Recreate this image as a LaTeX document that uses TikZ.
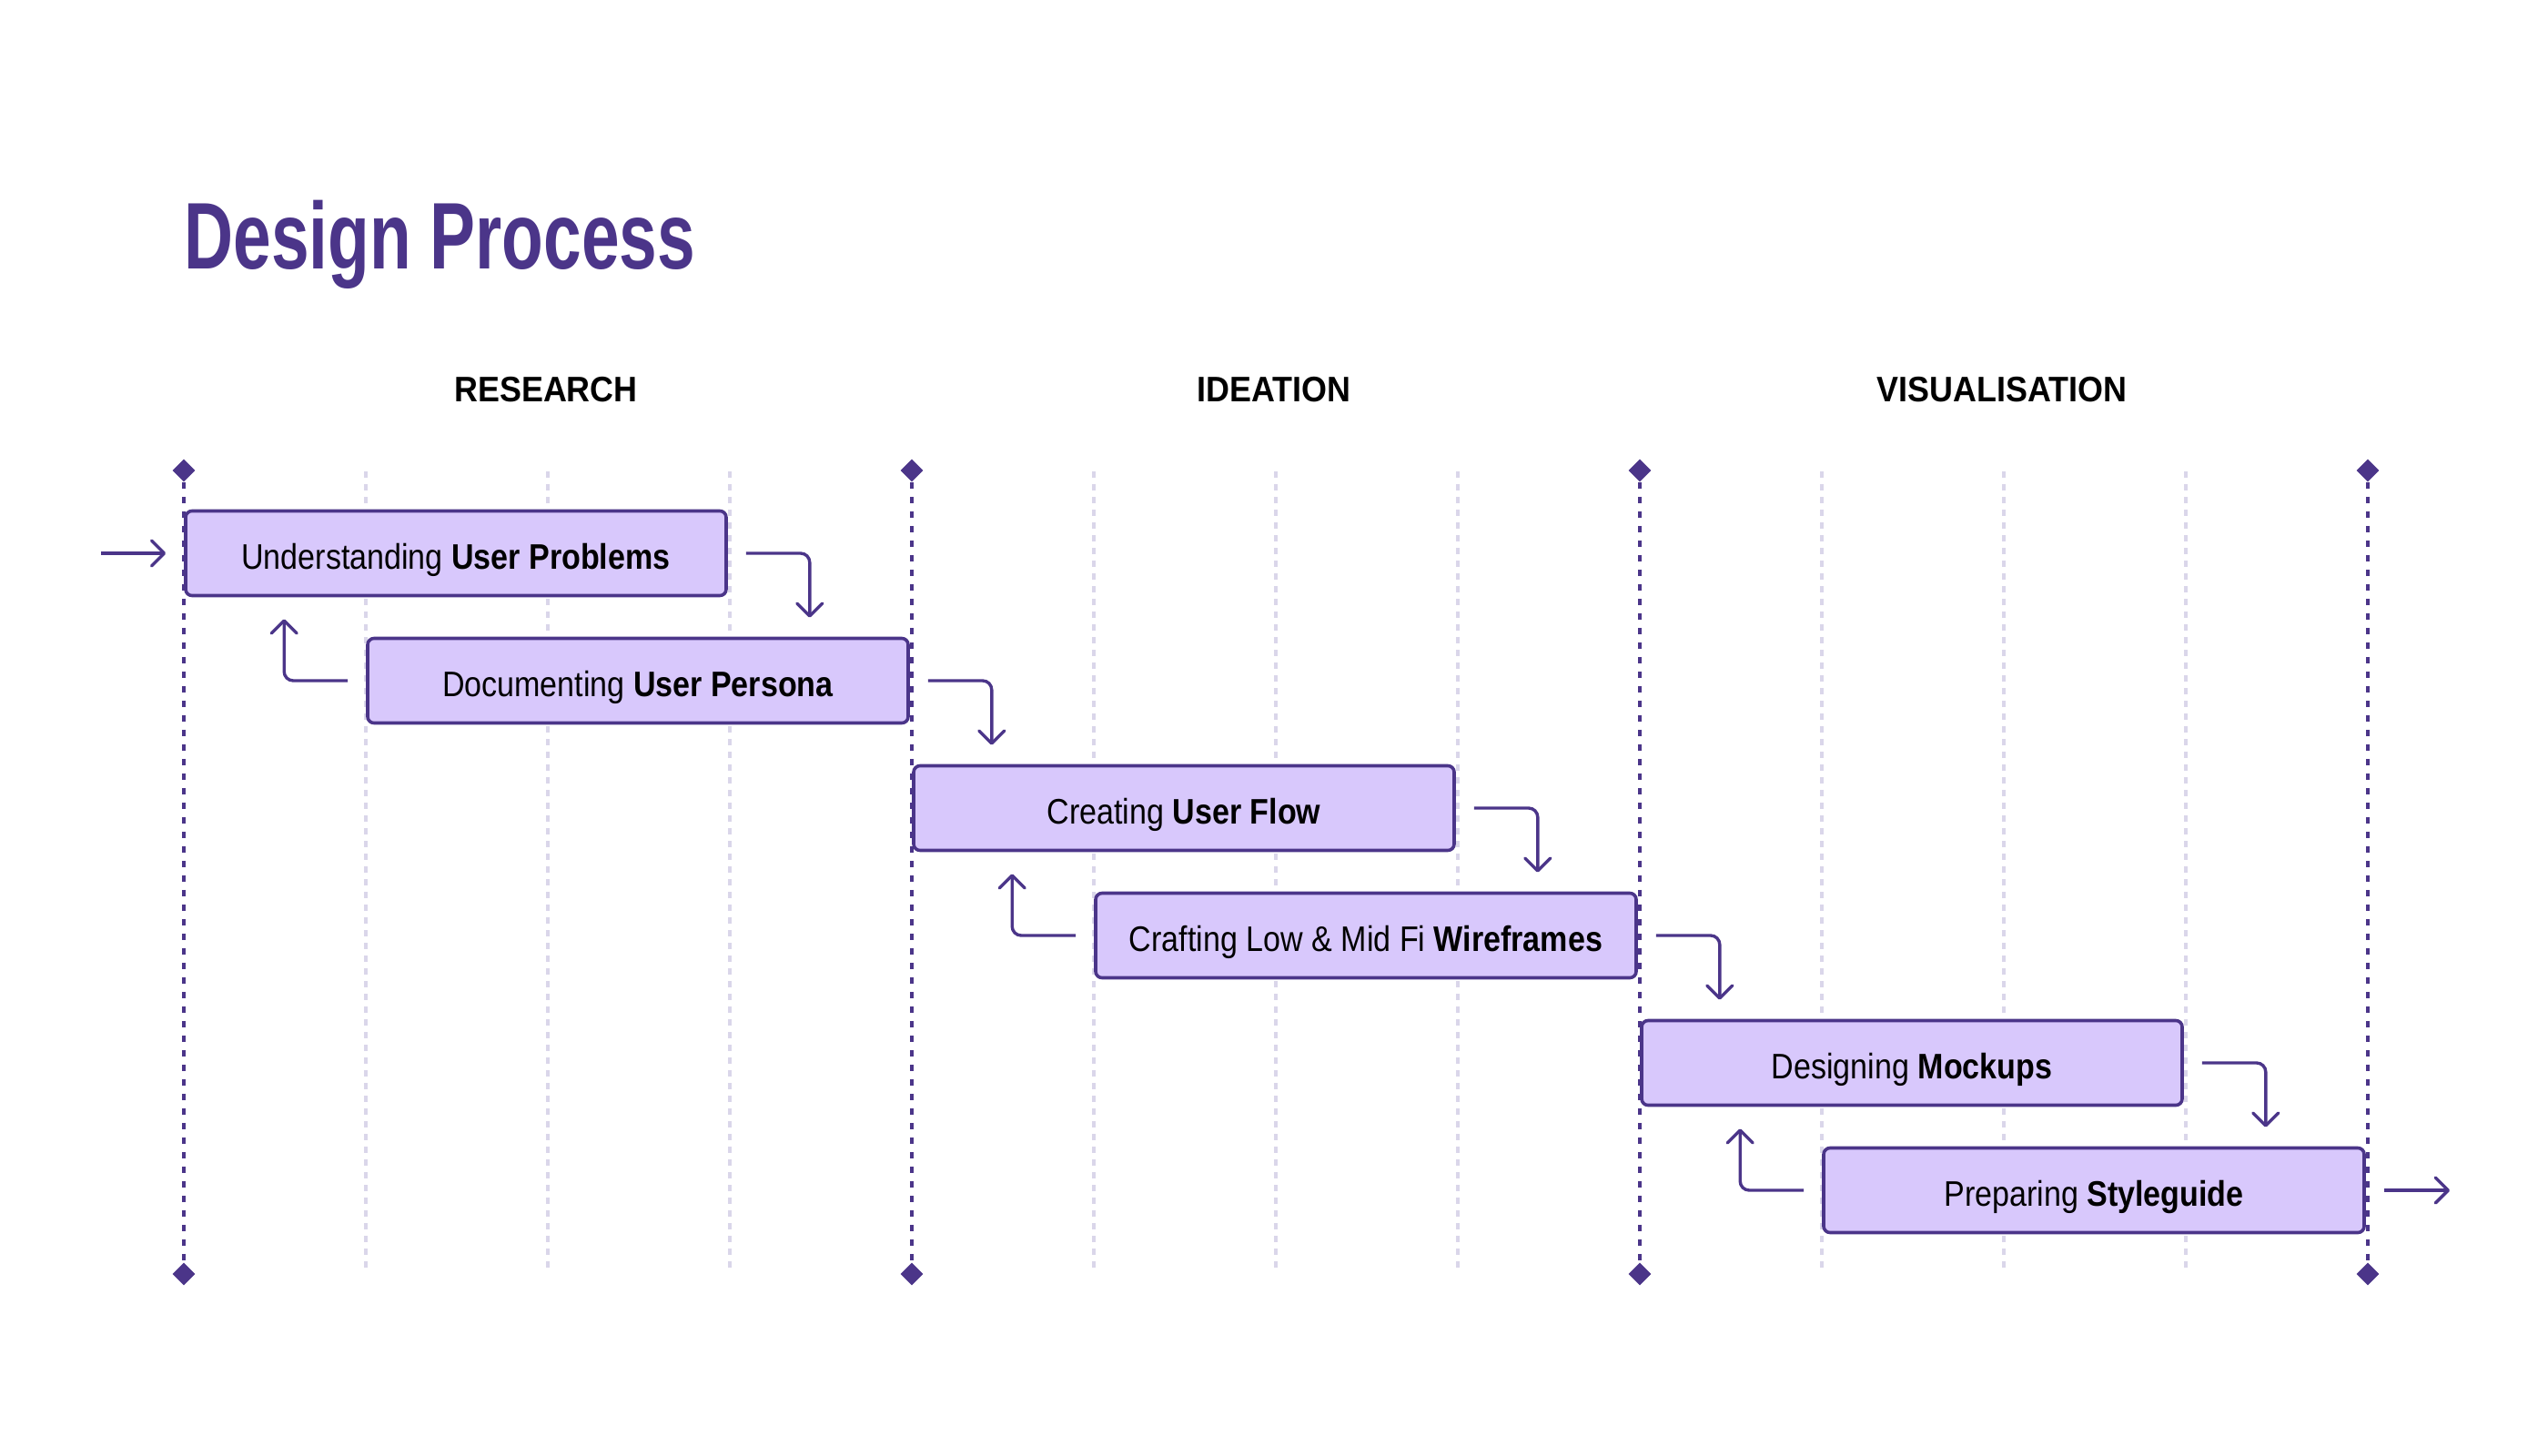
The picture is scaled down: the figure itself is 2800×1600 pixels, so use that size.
\documentclass[tikz,border=0pt]{standalone}
\usepackage{fontspec}
\setmainfont{Liberation Sans}
\newfontfamily\condfont[FakeStretch=0.873]{Liberation Sans}
\newfontfamily\titlefont[FakeStretch=0.72]{Liberation Sans}
\newfontfamily\headfont[FakeStretch=0.92]{Liberation Sans}
\usetikzlibrary{arrows.meta,shapes.geometric}
\definecolor{ink}{HTML}{4B3589}
\definecolor{boxfill}{HTML}{D8C8FC}
\definecolor{gridc}{HTML}{DAD6EA}
\tikzset{
  stage/.style={draw=ink, line width=1.8pt, fill=boxfill, rounded corners=3.5pt,
    minimum width=297pt, minimum height=46.5pt, inner sep=0pt, text=black,
    text height=17pt, text depth=0pt,
    font=\condfont\fontsize{19.5}{22}\selectfont},
  flow/.style={draw=ink, line width=1.7pt, rounded corners=5pt,
    -{Straight Barb[length=7pt,width=14pt,round]}},
  majorline/.style={draw=ink, line width=1.8pt, dash pattern=on 3.5pt off 4.5pt},
  minorline/.style={draw=gridc, line width=1.6pt, dash pattern=on 3.5pt off 3.5pt},
  gem/.style={diamond, fill=ink, minimum size=12.5pt, inner sep=0pt},
  phase/.style={anchor=base, font=\headfont\bfseries\fontsize{19.5}{22}\selectfont, text=black},
}
\begin{document}
\begin{tikzpicture}[x=0.5pt,y=-0.5pt]
\useasboundingbox (0,0) rectangle (2800,1600);
% title
\node[anchor=base west, inner sep=0pt, text=ink, font=\titlefont\bfseries\fontsize{52}{60}\selectfont] (title) at (202,295) {Design Process};
% phase headers
\node[phase] (h1) at (600,441) {RESEARCH};
\node[phase] (h2) at (1400,441) {IDEATION};
\node[phase] (h3) at (2200,441) {VISUALISATION};
% minor grid
\foreach \x in {402,602,802,1202,1402,1602,2002,2202,2402}
  \draw[minorline] (\x,518) -- (\x,1400);
% major lines with diamonds
\foreach \x [count=\i] in {202,1002,1802,2602} {
  \node[gem] (dt\i) at (\x,517) {};
  \node[gem] (db\i) at (\x,1400) {};
  \draw[majorline] (dt\i) -- (db\i);
}
% stages
\node[stage] (b1) at (501,608) {Understanding \textbf{User Problems}};
\node[stage] (b2) at (701,748) {Documenting \textbf{User Persona}};
\node[stage] (b3) at (1301,888) {Creating \textbf{User Flow}};
\node[stage] (b4) at (1501,1028) {Crafting Low \& Mid Fi \textbf{Wireframes}};
\node[stage] (b5) at (2101,1168) {Designing \textbf{Mockups}};
\node[stage] (b6) at (2301,1308) {Preparing \textbf{Styleguide}};
% forward arrows
\foreach \a/\b in {b1/b2,b2/b3,b3/b4,b4/b5,b5/b6} {
  \coordinate (\a-f) at ([xshift=45pt]\a.east);
  \coordinate (\b-t) at ([yshift=10.5pt]\b.north);
  \draw[flow] ([xshift=10pt]\a.east) -- (\a-f) -- (\a-f |- \b-t);
}
% backward arrows
\foreach \a/\b in {b2/b1,b4/b3,b6/b5} {
  \coordinate (\a-r) at ([xshift=-45pt]\a.west);
  \coordinate (\b-u) at ([yshift=-12pt]\b.south);
  \draw[flow] ([xshift=-10pt]\a.west) -- (\a-r) -- (\a-r |- \b-u);
}
% entry and exit
\coordinate (entry) at (111,608);
\coordinate (exit) at (2692,1308);
\draw[flow] (entry) -- ([xshift=-10pt]b1.west);
\draw[flow] ([xshift=10pt]b6.east) -- (exit);
\end{tikzpicture}
\end{document}
